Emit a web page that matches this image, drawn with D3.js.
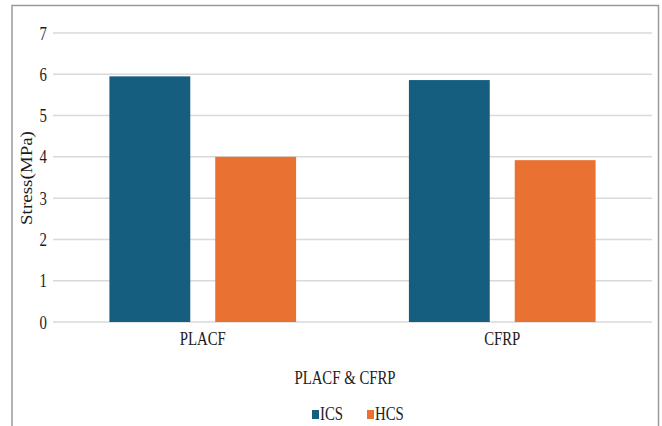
<!DOCTYPE html>
<html>
<head>
<meta charset="utf-8">
<script src="https://cdn.jsdelivr.net/npm/d3@7"></script>
<style>
  html, body { margin: 0; padding: 0; background: #fff; }
  svg { display: block; }
  text { font-family: "Liberation Serif", "Times New Roman", serif; fill: #1c1c1c; }
</style>
</head>
<body>
<svg id="chart" width="662" height="426"></svg>
<script>
// Stress values (MPa) for each specimen type
const categories = ["PLACF", "CFRP"];
const seriesNames = ["ICS", "HCS"];
const icsValues = [5.95, 5.86];
const hcsValues = [4.0, 3.92];
const yTicks = [0, 1, 2, 3, 4, 5, 6, 7];
const colors = ["#165e80", "#e97132"];

const FONT = '"Liberation Serif", "Times New Roman", serif';
const FONT_SIZE = "19px";
const SQUEEZE = 0.78; // narrow, condensed look of the labels

const rows = categories.map((c, i) => ({ category: c, values: [icsValues[i], hcsValues[i]] }));

// Condense text horizontally about its own x anchor
function squeeze(sel) {
  sel.each(function () {
    const t = d3.select(this);
    const x = +t.attr("x") || 0;
    t.attr("transform", `translate(${x},0) scale(${SQUEEZE},1) translate(${-x},0)`);
  });
}

const svg = d3.select("#chart");

// Outer frame (open at the bottom)
svg.append("path")
  .attr("d", "M12,430 L12,5.5 L658.5,5.5 L658.5,430")
  .attr("fill", "none")
  .attr("stroke", "#9a9a9a")
  .attr("stroke-width", 1.5);

const plot = { left: 53, right: 652, top: 33, bottom: 322 };

const x0 = d3.scaleBand().domain(categories).range([plot.left, plot.right]).paddingInner(0).paddingOuter(0);
const x1 = d3.scaleBand().domain(seriesNames).range([0, x0.bandwidth()])
  .paddingInner(0.236).paddingOuter(0.533);
const y = d3.scaleLinear().domain([0, 7]).range([plot.bottom, plot.top]);

// Horizontal gridlines
svg.append("g").selectAll("line").data(yTicks).join("line")
  .attr("x1", plot.left).attr("x2", plot.right)
  .attr("y1", d => y(d)).attr("y2", d => y(d))
  .attr("stroke", "#d9d9d9").attr("stroke-width", 1.5);

// Y axis tick labels
const yAxis = d3.axisLeft(y).tickValues(yTicks).tickSize(0).tickPadding(6).tickFormat(d3.format("d"));
const gy = svg.append("g").attr("transform", `translate(${plot.left},0)`).call(yAxis);
gy.attr("font-family", null);
gy.select(".domain").remove();
gy.selectAll("text").style("font-family", FONT).style("font-size", FONT_SIZE).attr("fill", "#1c1c1c").call(squeeze);

// Bars
const groups = svg.append("g").selectAll("g").data(rows).join("g")
  .attr("transform", d => `translate(${x0(d.category)},0)`);
groups.selectAll("rect")
  .data(d => d.values.map((v, i) => ({ key: seriesNames[i], value: v, idx: i })))
  .join("rect")
  .attr("x", d => x1(d.key))
  .attr("width", x1.bandwidth())
  .attr("y", d => y(d.value))
  .attr("height", d => y(0) - y(d.value))
  .attr("fill", d => colors[d.idx]);

// X axis category labels
const xAxis = d3.axisBottom(x0).tickSize(0).tickPadding(9.5);
const gx = svg.append("g").attr("transform", `translate(0,${plot.bottom})`).call(xAxis);
gx.attr("font-family", null);
gx.select(".domain").remove();
gx.selectAll("text").style("font-family", FONT).style("font-size", FONT_SIZE).attr("fill", "#1c1c1c").call(squeeze);

// Axis titles
svg.append("text")
  .attr("transform", "translate(32,178) rotate(-90) scale(1,0.85)")
  .attr("text-anchor", "middle")
  .style("font-size", FONT_SIZE)
  .text("Stress(MPa)");

svg.append("text")
  .attr("x", 345).attr("y", 384)
  .attr("text-anchor", "middle")
  .style("font-size", FONT_SIZE)
  .text("PLACF & CFRP")
  .call(squeeze);

// Legend
const legend = svg.append("g").attr("transform", "translate(312,410)");
const items = legend.selectAll("g").data(seriesNames).join("g")
  .attr("transform", (d, i) => `translate(${i * 55},0)`);
items.append("rect").attr("width", 7).attr("height", 9).attr("fill", (d, i) => colors[i]);
items.append("text").attr("x", 8).attr("y", 10).style("font-size", FONT_SIZE).text(d => d).call(squeeze);
</script>
</body>
</html>
